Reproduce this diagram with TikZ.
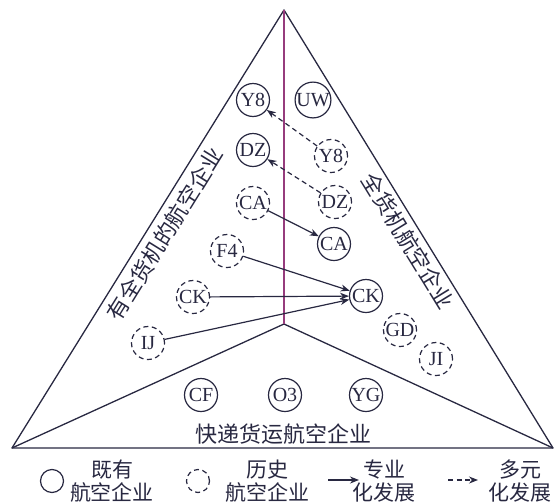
\documentclass[tikz,border=0pt]{standalone}
\usepackage{fontspec}
\setmainfont{Liberation Serif}
\newfontfamily\cjk{Noto Sans CJK SC}
\usetikzlibrary{arrows.meta,positioning}
\definecolor{ink}{RGB}{40,40,65}
\definecolor{axisline}{RGB}{150,60,125}

\begin{document}
\begin{tikzpicture}[x=1pt,y=-1pt,>={Stealth[length=9pt,width=7pt]},
  firm/.style={circle,draw=ink,line width=1.2pt,minimum size=33pt,inner sep=0pt,
    font=\fontsize{20}{20}\selectfont,text=ink},
  oldfirm/.style={firm,dash pattern=on 5pt off 3.5pt},
  lab/.style={font=\cjk\fontsize{22}{24}\selectfont,text=ink,align=center},
  keylab/.style={lab,font=\cjk\fontsize{21}{23}\selectfont},
  move/.style={->,ink,line width=1.2pt},
  movedash/.style={move,dash pattern=on 5pt off 3.5pt}]
\useasboundingbox (0,0) rectangle (555,504);
\coordinate (top) at (284,10);
\coordinate (bl) at (12,448);
\coordinate (br) at (553,448);
\coordinate (mid) at (284,324);
\draw[ink,line width=1.3pt,line join=round] (top)--(bl)--(br)--cycle;
\draw[ink,line width=1.3pt] (bl)--(mid)--(br);
\draw[axisline,line width=1.3pt] (top)--(mid);
% sector labels
\node[lab,rotate=58.2] (lside) at (165,234) {有全货机的航空企业};
\node[lab,rotate=-58.4] (rside) at (408,241) {全货机航空企业};
\node[lab] (bside) at (283,434) {快递货运航空企业};
% existing firms
\node[firm] (y8a) at (253,100) {Y8};
\node[firm] (uwa) at (313,100) {UW};
\node[firm] (dza) at (253,150) {DZ};
\node[firm] (caa) at (334,244) {CA};
\node[firm] (cka) at (366,296) {CK};
\node[firm] (cfa) at (201,395) {CF};
\node[firm] (o3a) at (285,395) {O3};
\node[firm] (yga) at (366,395) {YG};
% historical firms
\node[oldfirm] (y8h) at (331,156) {Y8};
\node[oldfirm] (dzh) at (335,202) {DZ};
\node[oldfirm] (cah) at (253,203) {CA};
\node[oldfirm] (f4h) at (227,251) {F4};
\node[oldfirm] (ckh) at (193,297) {CK};
\node[oldfirm] (ijh) at (148,343) {IJ};
\node[oldfirm] (gdh) at (400,330) {GD};
\node[oldfirm] (jih) at (436,359) {JI};
% transitions
\draw[movedash] (y8h)--(y8a);
\draw[movedash] (dzh)--(dza);
\draw[move] (cah)--(caa);
\draw[move] (f4h)--(cka);
\draw[move] (ckh)--(cka);
\draw[move] (ijh)--(cka);
% legend
\node[firm,minimum size=23pt] (keyold) at (52,481) {};
\node[keylab] (keyoldt) at (112,481) {既有\\航空企业};
\node[oldfirm,minimum size=23pt] (keyhist) at (198,481) {};
\node[keylab] (keyhistt) at (267,481) {历史\\航空企业};
\coordinate (k1) at (328,480);
\coordinate (k2) at (359,480);
\draw[move] (k1)--(k2);
\node[keylab] (keyspec) at (384,481) {专业\\化发展};
\coordinate (k3) at (448,480);
\coordinate (k4) at (478,480);
\draw[movedash] (k3)--(k4);
\node[keylab] (keydiv) at (520,481) {多元\\化发展};
\end{tikzpicture}
\end{document}
